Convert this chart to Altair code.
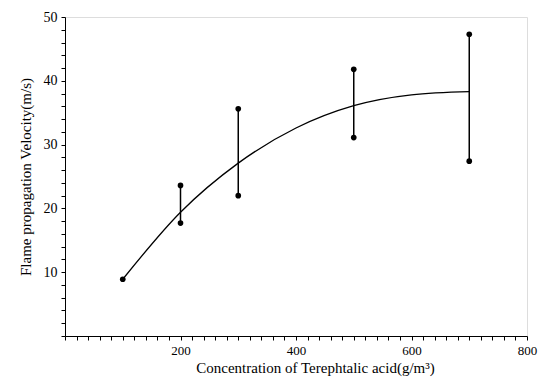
import altair as alt
import pandas as pd

# measured points (ranges)
conc = [200, 300, 500, 700]
v_low = [17.7, 22.0, 31.1, 27.4]
v_high = [23.6, 35.6, 41.8, 47.3]
single_x = [100]
single_y = [8.9]

# fitted curve
curve_x = [100, 200, 300, 400, 500, 600, 700]
curve_y = [8.9, 19.4, 27.1, 32.6, 36.1, 37.8, 38.3]

ranges = pd.DataFrame({"x": conc, "lo": v_low, "hi": v_high})
pts = pd.DataFrame({
    "x": conc + conc + single_x,
    "y": v_low + v_high + single_y,
})
curve = pd.DataFrame({"x": curve_x, "y": curve_y})

FONT = "Liberation Serif"

xs = alt.Scale(domain=[0, 800], nice=False)
ys = alt.Scale(domain=[0, 50], nice=False)

xax = alt.Axis(
    title="Concentration of Terephtalic acid(g/m³)",
    values=list(range(0, 801, 20)), tickCount=100, format="d",
    labelExpr="(datum.value % 200 == 0 && datum.value > 0) ? datum.label : ''",
    grid=False, tickSize=4, labelPadding=4, labelFontSize=13,
    titleFontSize=15, titleFontWeight="normal", titlePadding=3, titleX=250,
    labelFont=FONT, titleFont=FONT, domainColor="black", tickColor="black",
    labelColor="black", titleColor="black", labelFlush=False,
    labelOverlap=False,
)
yax = alt.Axis(
    title="Flame propagation  Velocity(m/s)",
    values=list(range(0, 51, 2)), tickCount=100, format="d",
    labelExpr="(datum.value % 10 == 0 && datum.value > 0) ? datum.label : ''",
    grid=False, tickSize=4, labelPadding=4, labelFontSize=14,
    titleFontSize=15, titleFontWeight="normal", titlePadding=10,
    labelFont=FONT, titleFont=FONT, domainColor="black", tickColor="black",
    labelColor="black", titleColor="black", labelFlush=False,
    labelOverlap=False,
)

line = alt.Chart(curve).mark_line(
    interpolate="monotone", color="black", strokeWidth=1.3
).encode(x=alt.X("x:Q", scale=xs, axis=xax), y=alt.Y("y:Q", scale=ys, axis=yax))

rules = alt.Chart(ranges).mark_rule(color="black", strokeWidth=1.5).encode(
    x=alt.X("x:Q", scale=xs), y=alt.Y("lo:Q", scale=ys), y2="hi:Q"
)

dots = alt.Chart(pts).mark_circle(color="black", size=32, opacity=1).encode(
    x=alt.X("x:Q", scale=xs), y=alt.Y("y:Q", scale=ys)
)

chart = (line + rules + dots).properties(
    width=462, height=319,
    autosize=alt.AutoSizeParams(type="none"),
    padding={"left": 65, "top": 17, "right": 23, "bottom": 46},
).configure_view(stroke=None).configure(background="white")

chart.save("out.html", embed_options={"renderer": "svg", "actions": False})
